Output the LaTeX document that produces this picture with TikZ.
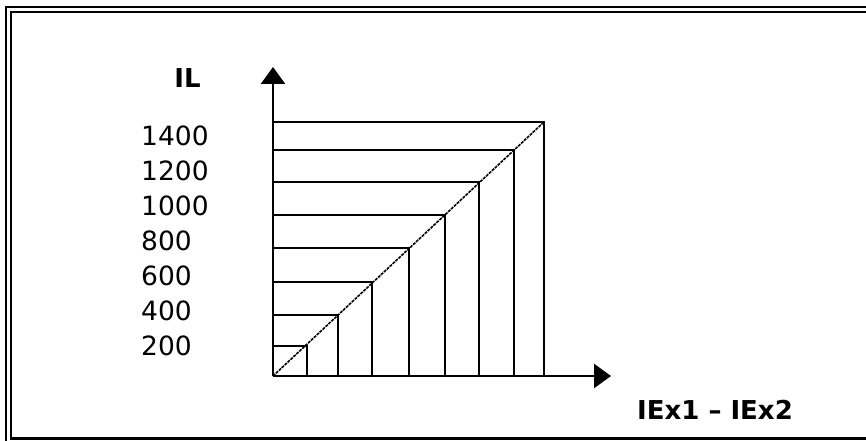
\documentclass[tikz,border=0pt]{standalone}
\usepackage{fontspec}
\setmainfont{DejaVu Sans}
\usetikzlibrary{arrows.meta,positioning}

\begin{document}
\begin{tikzpicture}[x=1pt, y=-1pt]
        \tikzstyle{axis} = [-{Triangle[length=17pt,width=24pt]}, line width=2.5pt]
        \tikzstyle{grid} = [line width=2.4pt]
        \tikzstyle{diag} = [line width=1.6pt, black, dash pattern=on 3pt off 1pt]
        \tikzstyle{frame} = [line width=2.8pt]
        \tikzstyle{tick} = [anchor=west, inner sep=0pt, font=\fontsize{26.5}{30}\selectfont]
        \tikzstyle{title} = [inner sep=0pt, font=\fontsize{26}{30}\selectfont\bfseries]
        \useasboundingbox (0,0) rectangle (866,441);
        \clip (0,0) rectangle (866,441);
        % double frame, cut at right and bottom
        \draw[frame] (6,7) rectangle (900,480);
        \draw[frame] (11,12) rectangle (900,438.5);
        % axes
        \coordinate (O) at (273,376);
        \coordinate (ytop) at (273,67);
        \coordinate (xend) at (611,376);
        \draw[axis] (O) -- (ytop);
        \draw[axis] (O) -- (xend);
        % nested corners on the diagonal
        \foreach \x/\y [count=\i] in {307/346, 338/315, 372/282, 409/248, 445/215, 479/182, 514/150, 544/122} {
            \coordinate (c\i) at (\x,\y);
            \draw[grid] (O |- c\i) -- (c\i) -- (c\i |- O);
        }
        \draw[diag] (O) -- (c8);
        % labels
        \foreach \v [count=\k from 0] in {1400,1200,1000,800,600,400,200}
            \node[tick] (lab\v) at (141,135.5+35.1*\k) {\v};
        \node[title] (ylab) at (187.5,78) {IL};
        \node[title] (xlab) at (715,410) {IEx1 -- IEx2};
    \end{tikzpicture}
\end{document}
